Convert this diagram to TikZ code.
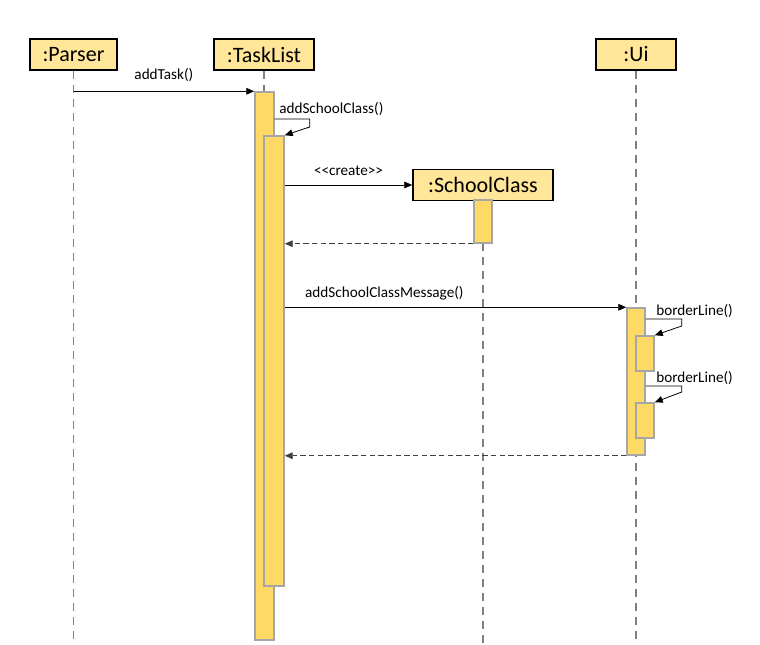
\documentclass[tikz,border=0pt]{standalone}
\usepackage{fontspec}
\newfontfamily\umlfont{Carlito}
\usepackage{tikz}
\usetikzlibrary{arrows.meta,positioning,fit}
\definecolor{headfill}{RGB}{255,230,153}
\definecolor{actfill}{RGB}{255,217,102}
\definecolor{actline}{RGB}{166,166,166}
\definecolor{lifegray}{RGB}{128,128,128}

\begin{document}
\begin{tikzpicture}[x=0.75pt,y=-0.75pt, font=\umlfont,
    head/.style={draw, fill=headfill, line width=1.1pt, inner sep=0pt,
        minimum height=23.25pt, font=\umlfont\fontsize{16.5}{19}\selectfont},
    act/.style={draw=actline, fill=actfill, line width=1.1pt, inner sep=0pt},
    life/.style={lifegray, line width=1.2pt, dash pattern=on 6pt off 4.5pt},
    msg/.style={-{Triangle[length=6pt,width=5pt]}, line width=0.6pt},
    ret/.style={msg, dash pattern=on 4pt off 2.5pt, black!75},
    lbl/.style={font=\umlfont\fontsize{11.4}{13}\selectfont, inner sep=0pt}]
    \useasboundingbox (0,0) rectangle (760,644);
    % Lifeline heads
    \node[head, minimum width=65pt] (parser) at (73.5,54.5) {:Parser};
    \node[head, minimum width=75pt] (tasklist) at (264,54.5) {:TaskList};
    \node[head, minimum width=60pt] (ui) at (636,54.5) {:Ui};
    \node[head, minimum width=105pt] (school) at (483,185) {:SchoolClass};
    % Lifelines
    \coordinate (bottom) at (0,644);
    \draw[life] (parser.south) -- (parser.south |- bottom);
    \draw[life] (tasklist.south) -- (tasklist.south |- bottom);
    \draw[life] (ui.south) -- (ui.south |- bottom);
    \draw[life] (school.south) -- (school.south |- bottom);
    % Activation bars
    \node[act, fit={(255,92) (274,640)}] (tlA) {};
    \node[act, fit={(264,136) (284,586)}] (tlB) {};
    \node[act, fit={(474,200) (492,243)}] (scA) {};
    \node[act, fit={(627,308) (645,455)}] (uiA) {};
    \node[act, fit={(636,336) (654,371)}] (uiB) {};
    \node[act, fit={(636,403) (654,438)}] (uiC) {};
    % Messages
    \draw[msg] (parser.south |- tlA.north) -- node[lbl, above=7pt] {addTask()} (tlA.north west);
    \draw[msg] (tlA.east |- 0,119) -- ++(35,0) -- ++(0,8) -- (tlB.north east);
    \node[lbl, anchor=west] (selfA) at (279,109) {addSchoolClass()};
    \draw[msg] (tlB.east |- school.west) -- node[lbl, above=7pt] {<<create>>} (school.west);
    \draw[ret] (scA.south west) -- (tlB.east |- scA.south);
    \draw[msg] (tlB.east |- uiA.north) -- (uiA.north west)
        node[lbl, pos=0, anchor=south west, xshift=15pt, yshift=5pt] {addSchoolClassMessage()};
    \draw[msg] (uiA.east |- 0,319) -- ++(36,0) -- ++(0,7) -- (uiB.north east);
    \node[lbl, anchor=west] (selfB) at (656,311) {borderLine()};
    \draw[msg] (uiA.east |- 0,386) -- ++(36,0) -- ++(0,6) -- (uiC.north east);
    \node[lbl, anchor=west] (selfC) at (656,378) {borderLine()};
    \draw[ret] (uiA.south west) -- (tlB.east |- uiA.south);
\end{tikzpicture}
\end{document}
